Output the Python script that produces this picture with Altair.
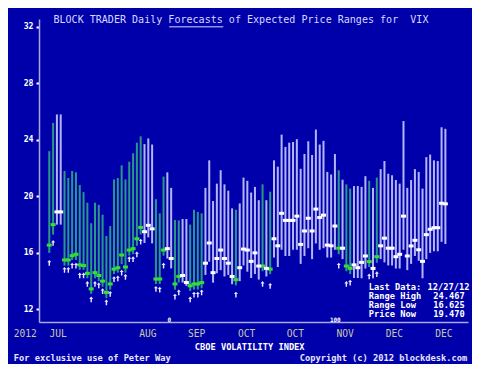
import altair as alt
import pandas as pd

# ---- data (one entry per trading day) ----
kind = ["G","G","W","W","G","G","G","G","G","G","G","G","G","G","G","G","G","G","G","G",
        "G","G","G","G","G","W","W","W","G","G","G","W","W","G","G","W","W","G","G","G",
        "G","W","W","W","W","W","W","W","W","G","W","W","W","W","W","W","G","W","G","W",
        "W","W","W","W","W","W","W","W","W","W","W","W","W","W","W","W","G","W","G","G",
        "W","W","W","W","G","W","G","W","W","W","W","W","W","W","W","W","W","W","W","W",
        "W","W","W","W","W"]
high = [23.2,25.2,25.8,25.8,21.8,21.3,21.8,21.7,20.8,20.3,19.55,18.1,19.55,19.4,18.7,17.2,17.9,21.2,21.3,22.2,
        21.2,22.45,23.05,23.8,24.25,23.7,24.1,23.67,19.8,18.8,21.4,21.7,20.6,18.33,18.3,18.4,18.4,18.0,19.05,18.9,
        18.8,20.6,22.55,19.67,20.9,21.85,20.85,20.4,19.15,19.05,19.5,21.33,21.1,20.27,20.67,19.73,20.85,19.73,20.33,22.55,
        22.1,24.37,23.5,23.8,23.85,24.05,21.95,23.0,23.9,22.93,24.73,23.67,23.93,21.73,21.55,23.0,21.85,21.18,20.85,20.55,
        20.73,20.73,20.67,21.43,21.1,20.6,21.33,21.93,22.5,21.6,21.49,21.16,20.9,25.33,20.6,21.16,21.93,21.73,20.55,22.78,
        22.96,22.55,22.5,24.89,24.78]
low = [16.0,17.3,18.0,18.0,15.1,15.1,15.5,15.5,14.8,14.8,14.2,13.1,14.2,14.0,13.6,12.8,13.4,14.5,14.6,15.2,
       14.6,15.8,15.9,16.5,17.3,16.7,17.1,16.67,13.8,13.8,15.8,15.6,14.9,13.4,13.9,13.9,13.67,13.3,13.4,13.4,
       13.5,14.44,15.38,13.89,14.56,14.78,14.33,14.44,13.78,13.7,14.0,15.11,14.67,14.22,14.5,14.11,14.7,14.33,14.5,15.67,
       15.0,16.22,15.78,15.78,16.22,16.22,15.22,15.78,16.33,15.56,16.67,16.22,16.33,15.67,15.67,16.22,15.9,15.56,14.7,14.5,
       14.22,14.22,14.2,14.89,15.0,14.2,15.3,15.56,15.33,15.11,15.11,14.89,14.89,16.22,14.78,15.22,15.78,15.44,14.2,15.56,
       16.0,16.11,16.11,16.78,16.63]
price = [16.55,18.0,18.9,18.9,15.5,15.5,15.8,15.9,15.15,15.1,14.55,13.45,14.6,14.4,14.0,13.2,13.8,14.85,14.95,15.85,
         15.0,16.2,16.3,17.0,17.8,17.5,17.95,17.7,14.15,14.15,16.2,16.3,15.6,13.8,14.33,14.4,13.9,13.67,13.8,13.8,
         13.9,15.27,16.7,14.6,15.6,16.2,15.6,15.27,14.33,14.1,14.95,16.27,16.2,15.4,16.0,15.07,15.07,14.9,14.85,17.0,
         16.5,18.8,18.3,18.3,18.3,18.6,16.6,17.55,18.45,17.55,19.1,18.5,18.67,16.55,16.5,17.9,16.33,16.33,15.07,14.9,
         15.15,14.95,15.33,15.78,15.38,14.9,15.73,16.5,17.04,16.33,16.33,15.73,15.9,18.6,15.78,16.49,16.89,16.22,15.4,17.29,
         17.67,17.78,17.78,19.51,19.47]
arrow = [15.3,16.7,None,None,14.8,14.8,15.1,15.1,14.4,14.4,13.8,12.7,13.8,13.7,13.3,12.5,13.1,14.15,14.2,14.6,
         14.3,15.55,15.55,15.9,16.8,None,None,None,13.45,13.4,15.1,None,None,12.9,13.2,None,None,12.7,13.05,13.05,
         13.2,None,None,None,None,None,None,None,None,13.05,None,None,None,None,None,None,13.8,None,13.67,None,
         None,None,None,None,None,None,None,None,None,None,None,None,None,None,None,None,15.1,None,13.8,13.9,
         None,None,None,None,14.33,None,14.49,None,None,None,None,None,None,None,None,None,None,None,None,None,
         None,None,None,None,None]

months = ["2012", "JUL", "AUG", "SEP", "OCT", "OCT", "NOV", "DEC", "DEC"]
month_pos = [-6.3, 2.3, 25.9, 38.7, 51.8, 64.6, 77.7, 90.6, 103.6]
y_ticks = [12, 14, 16, 18, 20, 22, 24, 26, 28, 30, 32]

info_labels = ["Last Data:", "Range High", "Range Low", "Price Now"]
info_values = ["12/27/12", "24.467", "16.625", "19.470"]

df = pd.DataFrame({"i": list(range(len(high))), "kind": kind, "high": high,
                   "low": low, "price": price, "arrow": arrow})

# ---- layout: whole chart 464 x 356 so the page fits the window ----
W, H = 464, 356
SX, SY = W / 480, H / 378
PL, PT, PW, PH = 31, 11, 429, 303


def vx(x):
    return x * SX - PL


def vy(y):
    return y * SY - PT


BG = "#0000AA"
AX = "#A8A8E8"
MONO = "DejaVu Sans Mono"

xs = alt.Scale(domain=[-2.70, 109.94], nice=False, zero=False)
ys = alt.Scale(domain=[11.107, 32.555], nice=False, zero=False)

X = alt.X("i:Q", scale=xs, axis=alt.Axis(labels=False, ticks=False, title=None, grid=False,
                                         domainColor=AX, domainWidth=1.5))
Y_axis = alt.Axis(values=y_ticks, title=None, grid=False, domainColor=AX, domainWidth=1.5,
                  tickColor="white", tickSize=3, tickWidth=2, labelColor="white",
                  labelFont=MONO, labelFontWeight="bold", labelFontSize=8.2, labelPadding=3)

base = alt.Chart(df)

rules_g = base.transform_filter("datum.kind == 'G'").mark_rule(strokeWidth=2, color="#2A9888").encode(
    x=X, y=alt.Y("high:Q", scale=ys, axis=Y_axis), y2="low:Q")
rules_w = base.transform_filter("datum.kind == 'W'").mark_rule(strokeWidth=2, color="#B4B4FA").encode(
    x=X, y=alt.Y("high:Q", scale=ys, axis=Y_axis), y2="low:Q")

ticks_g = base.transform_filter("datum.kind == 'G'").mark_tick(
    orient="horizontal", size=5, thickness=3, color="#33E033", opacity=1).encode(
    x=X, y=alt.Y("price:Q", scale=ys))
ticks_w = base.transform_filter("datum.kind == 'W'").mark_tick(
    orient="horizontal", size=5, thickness=3, color="#FFFFFF", opacity=1).encode(
    x=X, y=alt.Y("price:Q", scale=ys))

arrow_path = "M0,-1L-0.7,-0.2L-0.25,-0.2L-0.25,1L0.25,1L0.25,-0.2L0.7,-0.2Z"
arrows = base.transform_filter("isValid(datum.arrow)").mark_point(
    shape=arrow_path, filled=True, size=33, color="#E8E8FF", opacity=1, strokeWidth=0).encode(
    x=X, y=alt.Y("arrow:Q", scale=ys))

mdf = pd.DataFrame({"m": months, "pos": month_pos})
month_text = alt.Chart(mdf).mark_text(font=MONO, fontSize=9.6, color="#C8C8A8", baseline="middle").encode(
    x=alt.X("pos:Q", scale=xs), y=alt.value(vy(346)), text="m:N")


def label(text, x, y, size=8.7, bold=True, color="white", align="left"):
    return alt.Chart(pd.DataFrame({"t": [text]})).mark_text(
        font=MONO, fontSize=size, fontWeight="bold" if bold else "normal", color=color,
        align=align, baseline="middle").encode(
        x=alt.value(vx(x)), y=alt.value(vy(y)), text="t:N")


texts = [
    label("BLOCK TRADER Daily Forecasts of Expected Price Ranges for\u00a0 VIX", 47, 13,
          size=10.05, bold=False, color="#D8D8FF"),
    label("CBOE VOLATILITY INDEX", 250, 360, align="center"),
    label("For exclusive use of Peter Way", 6, 371.5, color="#E8E8FF"),
    label("Copyright (c) 2012 blockdesk.com", 475, 371.5, color="#E8E8FF", align="right"),
    label("0", 165, 331, size=6),
    label("100", 333, 331, size=6),
]
info_y = [296.7, 306, 315.3, 324.7]
info_x = [434, 440, 440, 440]
for lab, val, yy, xx in zip(info_labels, info_values, info_y, info_x):
    texts.append(label(lab, 373.3, yy))
    texts.append(label(val, xx, yy))

underline = alt.Chart(pd.DataFrame({"a": [0]})).mark_rule(color="#D8D8FF", strokeWidth=1).encode(
    x=alt.value(vx(166.7)), x2=alt.value(vx(222.7)), y=alt.value(vy(20)))

chart = alt.layer(rules_g, rules_w, ticks_g, ticks_w, arrows, month_text, underline, *texts).properties(
    width=PW, height=PH, background=BG, autosize="none",
    padding={"left": PL, "top": PT, "right": W - PL - PW, "bottom": H - PT - PH},
).configure_view(strokeWidth=0)

chart.save("out.html", embed_options={"renderer": "svg", "actions": False})
